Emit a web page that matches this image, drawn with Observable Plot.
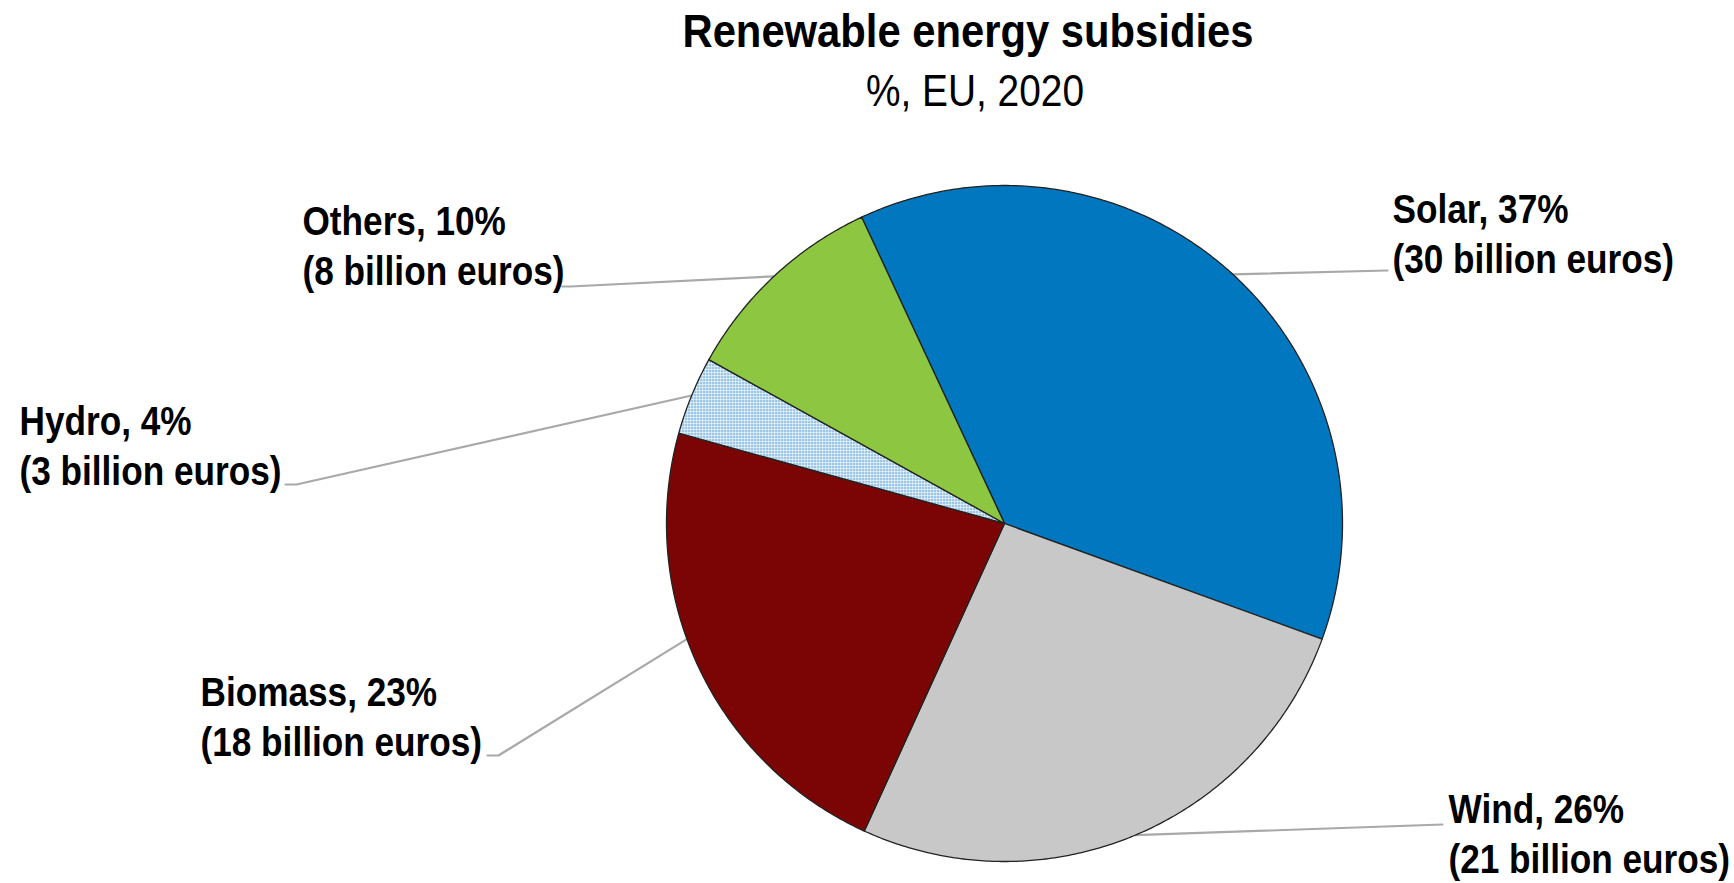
<!DOCTYPE html>
<html><head><meta charset="utf-8">
<script src="https://cdn.jsdelivr.net/npm/d3@7"></script>
<script src="https://cdn.jsdelivr.net/npm/@observablehq/plot@0.6"></script>
<style>
body{margin:0;background:#fff;}
#wrap{position:relative;width:1734px;height:883px;overflow:hidden;font-family:"Liberation Sans",Arial,sans-serif;color:#000;}
.ttl{position:absolute;width:1000px;text-align:center;line-height:1;white-space:nowrap;transform-origin:50% 50%;}
#title{left:468px;top:8px;font-size:46px;font-weight:bold;transform:scaleX(0.908);}
#subtitle{left:475px;top:68px;font-size:45px;transform:scaleX(0.863);}
#chart{position:absolute;left:0;top:120px;}
</style></head>
<body>
<div id="wrap">
  <div id="title" class="ttl">Renewable energy subsidies</div>
  <div id="subtitle" class="ttl">%, EU, 2020</div>
  <div id="chart"></div>
</div>
<script>
// ---- data ----
const categories = ["Solar", "Wind", "Biomass", "Hydro", "Others"];
const billions   = [30, 21, 18, 3, 8];
const percents   = [37, 26, 23, 4, 10];

// ---- styles / layout ----
const fills = ["#0077bf", "#c8c8c8", "#7b0505", "url(#hydroDots)", "#8dc641"];
const startDeg = -25;
const W = 1734, H = 763;
const cx = 1004, cy = 403, R = 338;           // pie centre & radius in svg px
// label layout in svg px: text left x, last-line baseline y, leader end, optional elbow, optional anchor angle
const labelLayout = {
  Solar:   {tx: 1392, ty: 152, ex: 1387, ey: 150},
  Wind:    {tx: 1448, ty: 752, ex: 1442, ey: 704},
  Biomass: {tx: 200,  ty: 635, ex: 487,  ey: 635, bx: 498, by: 635, anchor: 250},
  Hydro:   {tx: 19,   ty: 364, ex: 285,  ey: 364, bx: 296, by: 364},
  Others:  {tx: 302,  ty: 164, ex: 562,  ey: 166, bx: 570, by: 166}
};
const textScaleX = 0.88;

// unit-space helpers (pie radius = 1, y up)
const ux = px => (px - cx) / R;
const uy = py => (cy - py) / R;

const rows = categories.map((c, i) => ({name: c, value: billions[i], pct: percents[i]}));
const arcs = d3.pie().sort(null).value(d => d.value)
  .startAngle(startDeg * Math.PI / 180)
  .endAngle((startDeg + 360) * Math.PI / 180)(rows);

const slicePts = [];
for (const a of arcs) {
  slicePts.push({name: a.data.name, x: 0, y: 0});
  const n = Math.max(8, Math.ceil((a.endAngle - a.startAngle) / (Math.PI / 360)));
  for (let k = 0; k <= n; k++) {
    const t = a.startAngle + (a.endAngle - a.startAngle) * k / n;
    slicePts.push({name: a.data.name, x: Math.sin(t), y: Math.cos(t)});
  }
}

const leaderPts = [];
const labels = [];
for (const a of arcs) {
  const L = labelLayout[a.data.name];
  const ang = L.anchor != null ? L.anchor * Math.PI / 180 : (a.startAngle + a.endAngle) / 2;
  leaderPts.push({name: a.data.name, x: Math.sin(ang), y: Math.cos(ang)});
  if (L.bx != null) leaderPts.push({name: a.data.name, x: ux(L.bx), y: uy(L.by)});
  leaderPts.push({name: a.data.name, x: ux(L.ex), y: uy(L.ey)});
  labels.push({
    name: a.data.name,
    x: ux(L.tx), y: uy(L.ty),
    text: `${a.data.name}, ${a.data.pct}%\n(${a.data.value} billion euros)`
  });
}

const plot = Plot.plot({
  width: W, height: H, margin: 0,
  x: {domain: [ux(0), ux(W)], axis: null},
  y: {domain: [uy(H), uy(0)], axis: null},
  color: {type: "ordinal", domain: categories, range: fills},
  style: {fontFamily: '"Liberation Sans",Arial,sans-serif', background: "#fff"},
  marks: [
    Plot.line(leaderPts, {x: "x", y: "y", z: "name", stroke: "#a9a9a9", strokeWidth: 2.2}),
    Plot.line(slicePts, {x: "x", y: "y", z: "name", fill: "name", stroke: "#222", strokeWidth: 1.3, curve: "linear-closed", strokeLinejoin: "round"}),
    Plot.text(labels, {x: "x", y: "y", text: "text", textAnchor: "start", lineAnchor: "bottom", lineHeight: 1.25, fontSize: 40, fontWeight: "bold", fill: "#000"})
  ]
});

// condensed look for the labels (narrow bold face)
plot.querySelectorAll('g[aria-label="text"] text').forEach(t => {
  const tr = t.getAttribute("transform") || "";
  t.setAttribute("transform", `${tr} scale(${textScaleX},1)`);
});

// dotted pattern for Hydro
const ns = "http://www.w3.org/2000/svg";
const defs = document.createElementNS(ns, "defs");
defs.innerHTML = `<pattern id="hydroDots" patternUnits="userSpaceOnUse" width="3" height="3">
  <rect width="3" height="3" fill="#ffffff"/>
  <rect x="0.7" y="0.7" width="1.7" height="1.6" fill="#1f80c6"/>
</pattern>`;
plot.insertBefore(defs, plot.firstChild);
document.getElementById("chart").appendChild(plot);
</script>
</body></html>
